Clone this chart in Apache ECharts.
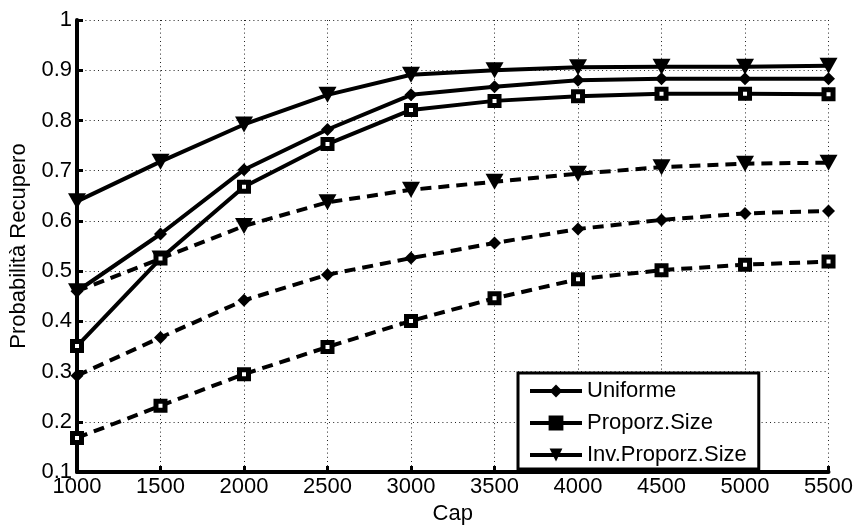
<!DOCTYPE html>
<html>
<head>
<meta charset="utf-8">
<script src="https://cdn.jsdelivr.net/npm/echarts@6/dist/echarts.min.js"></script>
<style>html,body{margin:0;padding:0;background:#fff}#c{width:856px;height:530px}</style>
</head>
<body>
<div id="c"></div>
<script>
const caps = [1000, 1500, 2000, 2500, 3000, 3500, 4000, 4500, 5000, 5500];
const uniformeSolid = [0.46, 0.574, 0.702, 0.782, 0.851, 0.867, 0.88, 0.883, 0.883, 0.883];
const proporzSolid = [0.351, 0.525, 0.668, 0.753, 0.821, 0.839, 0.848, 0.853, 0.853, 0.852];
const invSolid = [0.639, 0.718, 0.792, 0.851, 0.891, 0.90, 0.906, 0.907, 0.907, 0.909];
const uniformeDashed = [0.292, 0.368, 0.442, 0.493, 0.526, 0.556, 0.584, 0.602, 0.615, 0.62];
const proporzDashed = [0.168, 0.232, 0.295, 0.349, 0.401, 0.446, 0.484, 0.502, 0.513, 0.519];
const invDashed = [0.46, 0.525, 0.59, 0.637, 0.662, 0.678, 0.694, 0.707, 0.714, 0.716];
const legendNames = ['Uniforme', 'Proporz.Size', 'Inv.Proporz.Size'];

const FONT = 'Liberation Sans, Arial, Helvetica, sans-serif';
function pairs(vals) { return caps.map((c, i) => [c, vals[i]]); }

const markers = {
  diamond: { symbol: 'diamond', symbolSize: 13, itemStyle: { color: '#000' } },
  square: { symbol: 'rect', symbolSize: 9, itemStyle: { color: '#fff', borderColor: '#000', borderWidth: 5 } },
  tri: { symbol: 'triangle', symbolSize: [18, 16], symbolRotate: 180, itemStyle: { color: '#000' } }
};

function mk(name, vals, mkr, dashed) {
  return Object.assign({
    name: name,
    type: 'line',
    data: pairs(vals),
    showAllSymbol: true,
    z: dashed ? 2 : 3,
    lineStyle: { color: '#000', width: 4, type: dashed ? [11, 7] : 'solid' },
    emphasis: { disabled: true }
  }, JSON.parse(JSON.stringify(mkr)));
}

const chart = echarts.init(document.getElementById('c'), null, { renderer: 'canvas' });
chart.setOption({
  animation: false,
  backgroundColor: '#fff',
  textStyle: { fontFamily: FONT },
  grid: { left: 76, right: 27, top: 20, bottom: 50, containLabel: false },
  xAxis: {
    type: 'value', min: 1000, max: 5500, interval: 500,
    name: 'Cap', nameLocation: 'middle', nameGap: 28,
    nameTextStyle: { fontSize: 22, color: '#000', fontFamily: FONT },
    axisLine: { show: true, onZero: false, lineStyle: { color: '#000', width: 4 } },
    axisTick: { show: true, inside: true, length: 6, lineStyle: { color: '#000', width: 3 } },
    axisLabel: { fontSize: 22, color: '#000', margin: 4, fontFamily: FONT,
      formatter: v => String(v) },
    splitLine: { show: true, lineStyle: { color: '#222', width: 1, type: [1, 3.2] } }
  },
  yAxis: {
    type: 'value', min: 0.1, max: 1, interval: 0.1,
    name: 'Probabilità Recupero', nameLocation: 'middle', nameGap: 47,
    nameTextStyle: { fontSize: 22, color: '#000', fontFamily: FONT },
    axisLine: { show: true, onZero: false, lineStyle: { color: '#000', width: 4 } },
    axisTick: { show: true, inside: true, length: 6, lineStyle: { color: '#000', width: 3 } },
    axisLabel: { fontSize: 22, color: '#000', margin: 5, fontFamily: FONT,
      formatter: v => String(Math.round(v * 10) / 10) },
    splitLine: { show: true, lineStyle: { color: '#222', width: 1, type: [1, 3.2] } }
  },
  legend: {
    data: legendNames.map((n, i) => i === 1
      ? { name: n, itemStyle: { color: '#000', borderColor: '#000', borderWidth: 2 } }
      : { name: n }),
    orient: 'vertical',
    left: 518, top: 373,
    padding: [7, 12, 3, 10],
    itemGap: 10,
    itemWidth: 52, itemHeight: 16,
    backgroundColor: '#fff',
    borderColor: '#000', borderWidth: 3,
    lineStyle: { width: 4, color: '#000' },
    textStyle: { fontSize: 22, color: '#000', lineHeight: 22, fontFamily: FONT },
    selectedMode: false
  },
  series: [
    mk('Uniforme', uniformeSolid, markers.diamond, false),
    mk('Proporz.Size', proporzSolid, markers.square, false),
    mk('Inv.Proporz.Size', invSolid, markers.tri, false),
    mk('Uniforme (tratteggiata)', uniformeDashed, markers.diamond, true),
    mk('Proporz.Size (tratteggiata)', proporzDashed, markers.square, true),
    mk('Inv.Proporz.Size (tratteggiata)', invDashed, markers.tri, true)
  ]
});
</script>
</body>
</html>
